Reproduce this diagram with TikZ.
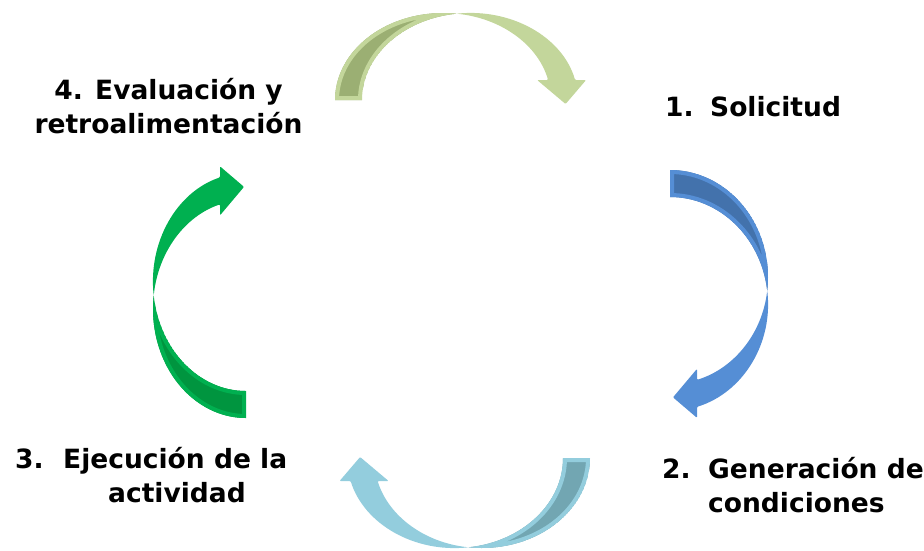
\documentclass[tikz,border=0pt]{standalone}
\usepackage{fontspec}
\setmainfont{DejaVu Sans}

\definecolor{oliveL}{HTML}{C3D69B}
\definecolor{oliveD}{HTML}{9BAF73}
\definecolor{blueL}{HTML}{558ED5}
\definecolor{blueD}{HTML}{4372AC}
\definecolor{aquaL}{HTML}{93CDDD}
\definecolor{aquaD}{HTML}{72A6B2}
\definecolor{greenL}{HTML}{00B050}
\definecolor{greenD}{HTML}{00953F}

% curved ribbon arrow: #1 centre, #2 rotation, #3 x radius, #4 y radius,
% #5 height of the head base, #6 light colour, #7 dark colour
\newcommand{\cyclearrow}[7]{%
  \begin{scope}[shift={#1},rotate=#2]
    \pgfmathsetmacro\angA{acos(13.5/#3)}
    \pgfmathsetmacro\angB{180-\angA}
    \pgfmathsetmacro\angH{asin(#5/#4)}
    \pgfmathsetmacro\xhead{#3*cos(\angH)}
    \def\backpath{(-#3,0) arc[start angle=180,end angle=\angA,x radius=#3,y radius=#4]
      arc[start angle=\angB,end angle=180,x radius=#3,y radius=#4] -- cycle}
    \def\frontpath{(\xhead+27,#5) -- ++(11,0) -- (\xhead+17.5,#5-24) -- (\xhead-11,#5)
      -- (\xhead,#5) arc[start angle=\angH,end angle=\angA,x radius=#3,y radius=#4]
      arc[start angle=\angB,end angle=\angH,x radius=#3,y radius=#4] -- cycle}
    \begin{scope}
      \clip \backpath;
      \filldraw[fill=#7,draw=#6,line width=8pt,line join=round] \backpath;
    \end{scope}
    \fill[#6,rounded corners=1pt] \frontpath;
  \end{scope}}

\tikzset{
  lbl/.style={inner sep=0pt,font=\bfseries\fontsize{26.5}{33.5}\selectfont}
}

\begin{document}
\begin{tikzpicture}[x=1pt,y=1pt]
  \useasboundingbox (0,0) rectangle (924,-550);

  % the four arrows of the cycle
  \cyclearrow{(443,-100)}{0}{108}{87}{20}{oliveL}{oliveD}
  \cyclearrow{(670,-277)}{-90}{107}{98}{27}{blueL}{blueD}
  \cyclearrow{(482,-458)}{180}{108}{90}{23}{aquaL}{aquaD}
  \cyclearrow{(246,-309)}{90}{109}{93}{26}{greenL}{greenD}

  % stages (base = baseline of the last line)
  \node[lbl,align=center,anchor=base] (eval) at (168.5,-133)
    {4. Evaluación y\\retroalimentación};
  \node[lbl,anchor=base west] (solic) at (665,-116.7)
    {\makebox[45pt][l]{1.}Solicitud};
  \node[lbl,align=left,anchor=base west] (gener) at (662,-512)
    {\makebox[46pt][l]{2.}Generación de\\\hspace*{46pt}condiciones};
  \node[lbl,align=left,anchor=base west] (ejec) at (15,-502)
    {\makebox[48pt][l]{3.}Ejecución de la\\\hspace*{93pt}actividad};
\end{tikzpicture}
\end{document}
